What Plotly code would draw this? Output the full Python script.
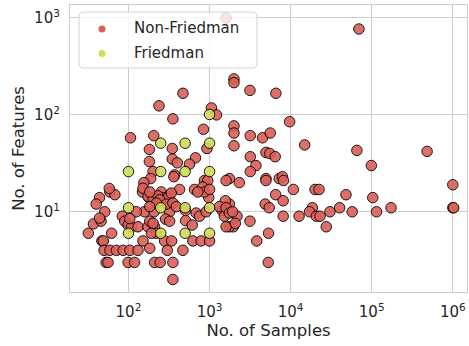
import plotly.graph_objects as go

# Datasets that are not Friedman benchmarks: (number of samples, number of features)
non_friedman_samples = [
    1600, 69500, 2000, 2000, 3150, 6580, 470, 238, 353, 1055,
    1216, 841, 2000, 2000, 2000, 9720, 106, 205, 347, 181,
    347, 400, 181, 671, 566, 929, 201, 371, 3180, 4500,
    5600, 14900, 65600, 482000, 98900, 3180, 4960, 5520, 6450, 3735,
    3180, 4960, 4960, 7220, 7930, 8160, 2330, 1756, 10800, 20000,
    22400, 48100, 6540, 8090, 4860, 5440, 18500, 17100, 20750, 23000,
    30550, 40200, 57400, 103000, 173000, 114600, 1000000, 1000000, 1025000, 8090,
    12700, 27500, 5335, 3820, 5300, 3150, 1756, 2180, 1966, 1756,
    363, 427, 865, 950, 1600, 188, 254, 322, 271, 653,
    825, 977, 1568, 59, 68, 44, 40, 51, 37, 46,
    32, 62, 47, 49, 50, 59, 71, 86, 104, 131,
    53, 56, 99, 119, 84, 90, 99, 109, 131, 174,
    151, 158, 179, 149, 210, 221, 210, 246, 865, 322,
    287, 506, 506, 684, 751, 611, 1429, 1524, 183, 201,
    279, 340, 622, 788, 1000, 301, 469, 353, 353, 125,
    207, 322, 908, 1324, 1600, 1756, 1928, 1600, 2080, 716,
    1000, 155, 151, 174, 201, 231, 306, 337, 243, 293,
    353, 389, 221, 183, 183, 192, 183, 104, 44, 58,
]
non_friedman_features = [
    1000, 770, 235, 215, 179, 167, 167, 124, 91, 118,
    100, 71, 77, 65, 48, 85, 58, 61, 45, 44,
    35, 32, 33, 36, 31, 45, 26, 24, 61, 58,
    65, 49, 43, 42, 30, 37, 41, 40, 37, 30,
    26, 22, 21, 22, 23, 21, 20, 22, 17, 17,
    17, 15, 15, 13, 12, 11, 11, 10, 9, 9,
    10, 11, 10, 14, 11, 10, 19, 11, 11, 9,
    9, 7, 6, 5, 3, 8, 12, 9, 7, 7,
    23, 17, 21, 21, 21, 22, 16, 15, 14, 17,
    18, 14, 13, 16, 15, 14, 12, 10, 7.5, 8,
    6, 6, 5, 5, 4, 4, 4, 4, 4, 4,
    3, 3, 3, 3, 9, 8, 7.3, 7, 7, 7,
    5, 10, 14, 16, 7, 6, 3, 3, 16, 10,
    8.4, 10.3, 8.1, 9.7, 9, 7.3, 10.3, 9, 8, 7.6,
    5, 5, 5, 5, 5, 4, 4, 3, 2, 10,
    10, 8, 10, 11.3, 11, 9.7, 10, 7, 7.6, 16,
    17, 20, 17.5, 14.4, 13.8, 14.6, 13.8, 15.6, 13.3, 12,
    12.3, 11.3, 12.3, 16, 11.3, 6, 4.2, 8.5, 8.6, 17.4,
]

# Friedman benchmark datasets
friedman_samples = [100, 100, 100, 250, 250, 250, 250, 500, 500, 500, 500,
                    1000, 1000, 1000, 1000, 1000]
friedman_features = [6, 11, 26, 6, 11, 26, 51, 6, 11, 26, 51,
                     6, 11, 26, 51, 101]

x_tick_values = [1e2, 1e3, 1e4, 1e5, 1e6]
x_tick_labels = ["10<sup>2</sup>", "10<sup>3</sup>", "10<sup>4</sup>",
                 "10<sup>5</sup>", "10<sup>6</sup>"]
y_tick_values = [1e1, 1e2, 1e3]
y_tick_labels = ["10<sup>1</sup>", "10<sup>2</sup>", "10<sup>3</sup>"]

legend_names = ["Non-Friedman", "Friedman"]

RED = "#db5f57"
YELLOW = "#d3db57"
FONT = "DejaVu Sans"
TEXT = "#262626"
GRID = "#cccccc"

W, H = 469, 346
M_L, M_R, M_T, M_B = 70, 2, 5, 54
PLOT_W = W - M_L - M_R
PLOT_H = H - M_T - M_B

fig = go.Figure()

marker_common = dict(size=10.5, opacity=0.9, line=dict(color="black", width=1))

fig.add_trace(go.Scatter(
    x=non_friedman_samples, y=non_friedman_features, mode="markers",
    marker=dict(color=RED, **marker_common), name=legend_names[0],
    showlegend=False, hoverinfo="skip",
))
fig.add_trace(go.Scatter(
    x=friedman_samples, y=friedman_features, mode="markers",
    marker=dict(color=YELLOW, **marker_common), name=legend_names[1],
    showlegend=False, hoverinfo="skip",
))


def px_x(px):
    """Horizontal pixel offset inside the plot area -> paper fraction."""
    return px / PLOT_W


def px_y(py):
    """Vertical pixel offset from the plot top -> paper fraction."""
    return 1 - py / PLOT_H


# Semi-transparent legend frame drawn above the markers, with rounded corners
bx0, bx1 = px_x(9), px_x(187)
by0, by1 = px_y(7), px_y(63)
rx, ry = px_x(4), 4 / PLOT_H
frame_path = (
    f"M {bx0 + rx},{by0} L {bx1 - rx},{by0} Q {bx1},{by0} {bx1},{by0 - ry} "
    f"L {bx1},{by1 + ry} Q {bx1},{by1} {bx1 - rx},{by1} "
    f"L {bx0 + rx},{by1} Q {bx0},{by1} {bx0},{by1 + ry} "
    f"L {bx0},{by0 - ry} Q {bx0},{by0} {bx0 + rx},{by0} Z"
)
shapes = [dict(
    type="path", path=frame_path, xref="paper", yref="paper", layer="above",
    fillcolor="rgba(255,255,255,0.82)", line=dict(color="#d4d4d4", width=1),
)]
annotations = []
for i, (name, color) in enumerate(zip(legend_names, [RED, YELLOW])):
    cy = 24 + 24.5 * i
    shapes.append(dict(
        type="circle", xref="paper", yref="paper", layer="above",
        x0=px_x(32 - 3.5), x1=px_x(32 + 3.5),
        y0=px_y(cy + 3.5), y1=px_y(cy - 3.5),
        fillcolor=color, line=dict(width=0),
    ))
    annotations.append(dict(
        text=name, xref="paper", yref="paper", showarrow=False,
        x=px_x(62), y=px_y(cy - 0.5), xanchor="left", yanchor="middle",
        font=dict(family=FONT, size=15, color=TEXT),
    ))

axis_common = dict(
    type="log",
    showgrid=True, gridcolor=GRID, gridwidth=1,
    showline=True, linecolor=GRID, linewidth=1.2, mirror=True,
    zeroline=False,
    ticks="outside", ticklen=6, tickcolor="rgba(0,0,0,0)",
    tickfont=dict(family=FONT, size=15, color=TEXT),
    title_font=dict(family=FONT, size=16.5, color=TEXT),
)

fig.update_xaxes(
    range=[1.279, 6.175],
    tickvals=x_tick_values, ticktext=x_tick_labels,
    title_text="No. of Samples", title_standoff=4,
    **axis_common,
)
fig.update_yaxes(
    range=[0.172, 3.134],
    tickvals=y_tick_values, ticktext=y_tick_labels,
    title_text="No. of Features", title_standoff=5,
    **axis_common,
)

fig.update_layout(
    width=W, height=H,
    margin=dict(l=M_L, r=M_R, t=M_T, b=M_B),
    plot_bgcolor="white", paper_bgcolor="white",
    font=dict(family=FONT, color=TEXT),
    showlegend=False,
    shapes=shapes,
    annotations=annotations,
)

fig.write_html("out.html")
